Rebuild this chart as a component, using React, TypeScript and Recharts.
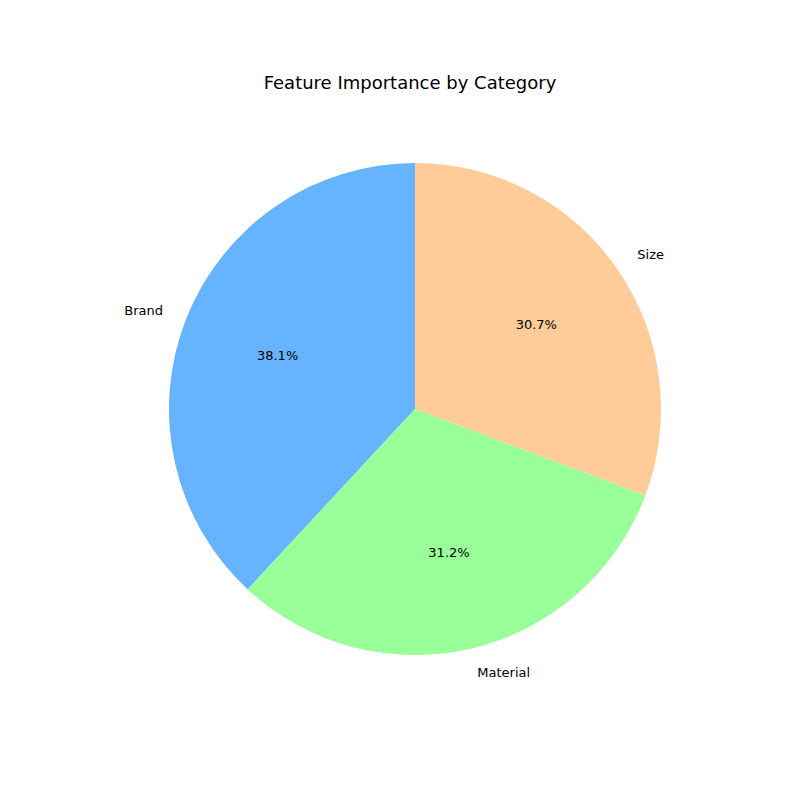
import { PieChart, Pie, Cell } from "recharts";

const categories = ["Brand", "Material", "Size"];
const shares = [38.1, 31.2, 30.7];
const colors = ["#66b3ff", "#99ff99", "#ffcc99"];

const data = categories.map((name, i) => ({ name, value: shares[i] }));
const RAD = Math.PI / 180;

const renderLabel = (props: any) => {
    const { cx, cy, midAngle, outerRadius, index, percent } = props;
    const c = Math.cos(midAngle * RAD);
    const s = Math.sin(midAngle * RAD);
    const lx = cx + outerRadius * 1.1 * c;
    const ly = cy - outerRadius * 1.1 * s;
    const px = cx + outerRadius * 0.6 * c;
    const py = cy - outerRadius * 0.6 * s;
    return (
        <g>
            <text x={lx} y={ly} textAnchor={c >= 0 ? "start" : "end"} dominantBaseline="central"
                fontSize={13} fill="#000">{categories[index]}</text>
            <text x={px} y={py} textAnchor="middle" dominantBaseline="central"
                fontSize={13} fill="#000">{(percent * 100).toFixed(1)}%</text>
        </g>
    );
};

export default function App() {
    return (
        <div style={{ position: "absolute", left: 0, top: 0, fontFamily: "DejaVu Sans" }}>
            <PieChart width={800} height={800}>
                <text x={410} y={82} textAnchor="middle" dominantBaseline="central" fontSize={18} fill="#000">
                    Feature Importance by Category
                </text>
                <Pie data={data} dataKey="value" cx={410} cy={404} outerRadius={246}
                    startAngle={90} endAngle={450} stroke="none" label={renderLabel}
                    labelLine={false} isAnimationActive={false}>
                    {data.map((d, i) => <Cell key={d.name} fill={colors[i]} />)}
                </Pie>
            </PieChart>
        </div>
    );
}
